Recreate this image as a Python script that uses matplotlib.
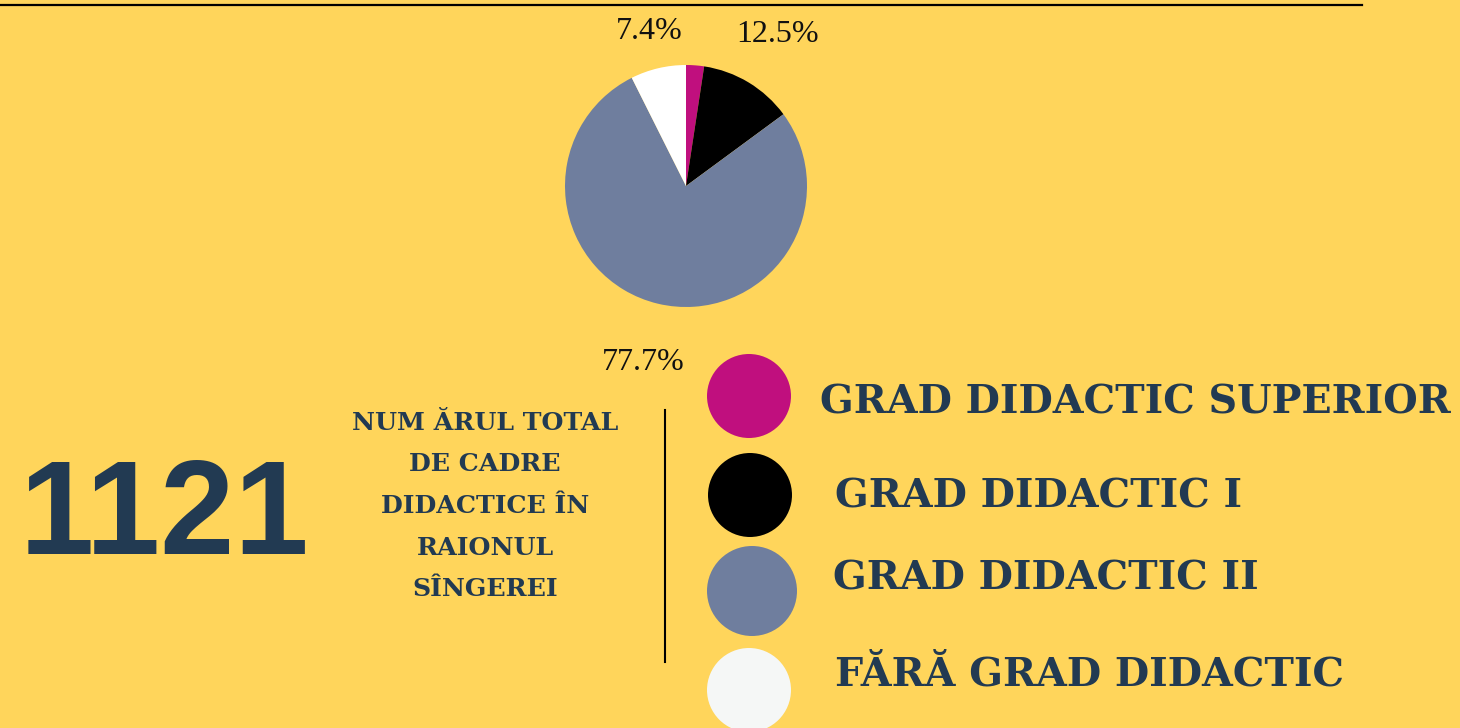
import matplotlib.pyplot as plt
from matplotlib.patches import Circle
import numpy as np

# data
categories = ['GRAD DIDACTIC SUPERIOR', 'GRAD DIDACTIC I', 'GRAD DIDACTIC II', 'FĂRĂ GRAD DIDACTIC']
shares = [2.4, 12.5, 77.7, 7.4]
pct_labels = ['', '12.5%', '77.7%', '7.4%']
total_teachers = '1121'
caption = 'NUM ĂRUL TOTAL\nDE CADRE\nDIDACTICE ÎN\nRAIONUL\nSÎNGEREI'

pie_colors = ['#C00F7E', '#000000', '#6F7E9E', '#FFFFFF']
legend_colors = ['#C00F7E', '#000000', '#6F7E9E', '#F5F7F6']
BG = '#FFD55B'
NAVY = '#223A52'
W, H = 1460, 728

fig = plt.figure(figsize=(14.6, 7.28), dpi=100, facecolor=BG)
ax = fig.add_axes([0, 0, 1, 1])

# pie
cx, cy, r = 686, H - 186, 121
wedges, _ = ax.pie(shares, colors=pie_colors, startangle=90, counterclock=False,
                   center=(cx, cy), radius=r, frame=True)
ax.set_xlim(0, W)
ax.set_ylim(0, H)
ax.set_aspect('equal')
ax.axis('off')

label_dist = [0, 1.46, 1.5, 1.31]
for w, lab, d in zip(wedges, pct_labels, label_dist):
    if not lab:
        continue
    ang = np.deg2rad((w.theta1 + w.theta2) / 2)
    ax.text(cx + d * r * np.cos(ang), cy + d * r * np.sin(ang), lab,
            ha='center', va='center', fontsize=23, family='Liberation Serif',
            color='#111111')

# top rule and divider
ax.plot([0, 1362], [H - 5, H - 5], color='black', lw=1.6)
ax.plot([665, 665], [H - 410, H - 662], color='black', lw=1.5)

# big number + caption
ax.text(164, H - 519, total_teachers, ha='center', va='center', fontsize=96,
        fontweight='bold', family='Liberation Sans', color=NAVY)
ax.text(485, H - 506, caption, ha='center', va='center', fontsize=18.2,
        fontweight='bold', family='DejaVu Serif', color=NAVY, linespacing=1.93)

# legend
circ_x = [749, 750, 752, 749]
circ_y = [396, 495, 591, 690]
circ_r = [42, 42, 45, 42]
text_x = [820, 835, 833, 835]
text_y = [402, 497, 579, 674]
for i, name in enumerate(categories):
    ax.add_patch(Circle((circ_x[i], H - circ_y[i]), circ_r[i], color=legend_colors[i], lw=0))
    ax.text(text_x[i], H - text_y[i], name, ha='left', va='center', fontsize=28.5,
            fontweight='bold', family='DejaVu Serif', color=NAVY)

fig.savefig('out.png', dpi=100, facecolor=BG)
